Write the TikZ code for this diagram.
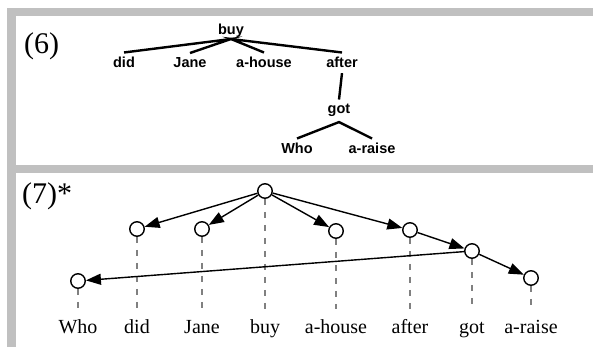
\documentclass[tikz,border=0pt]{standalone}
\usepackage{fontspec}
\setmainfont{Liberation Serif}
\setsansfont{Liberation Sans}
\usetikzlibrary{arrows.meta}
\definecolor{framegray}{RGB}{192,192,192}
\definecolor{projgray}{RGB}{128,128,128}
\tikzset{
  tword/.style={font=\sffamily\bfseries\fontsize{14.5}{16}\selectfont, inner sep=0pt, outer ysep=5pt, anchor=base},
  tedge/.style={line width=2.4pt},
  vert/.style={circle, draw, line width=1.4pt, fill=white, minimum size=14.5pt, inner sep=0pt},
  word/.style={font=\fontsize{20}{22}\selectfont, inner sep=0pt, anchor=base, text height=14pt, text depth=4pt, outer ysep=10pt},
  dep/.style={line width=1.4pt, -{Triangle[length=15pt,width=11pt]}},
  proj/.style={projgray, line width=1.4pt, dash pattern=on 6.5pt off 6.5pt},
  exnum/.style={font=\fontsize{30}{32}\selectfont, inner sep=0pt, anchor=base west}
}
\begin{document}
\begin{tikzpicture}[x=1pt,y=-1pt]
\useasboundingbox (0,0) rectangle (593,347);
% frame
\fill[framegray] (7,8) rectangle (593,16);
\fill[framegray] (7,8) rectangle (16,347);
\fill[framegray] (16,165) rectangle (593,173);

% (6) tree
\node[exnum] (ex6) at (24,54) {(6)};
\node[tword, outer ysep=1pt] (tbuy) at (231,35) {buy};
\node[tword] (tdid) at (124,68) {did};
\node[tword] (tjane) at (190,68) {Jane};
\node[tword] (thouse) at (264,68) {a-house};
\node[tword] (tafter) at (342,68) {after};
\node[tword] (tgot) at (339,114) {got};
\node[tword] (twho) at (297,154) {Who};
\node[tword] (traise) at (372,154) {a-raise};
\draw[tedge] (tdid.north) -- (tbuy.south) -- (tjane.north);
\draw[tedge] (thouse.north) -- (tbuy.south) -- (tafter.north);
\draw[tedge] (tafter.south) -- (tgot.north);
\draw[tedge] (twho.north) -- (tgot.south) -- (traise.north);

% (7) graph
\node[exnum] (ex7) at (22,204) {(7)*};
\node[vert] (buy) at (265,191) {};
\node[vert] (did) at (137,229) {};
\node[vert] (jane) at (202,229) {};
\node[vert] (house) at (336,231) {};
\node[vert] (after) at (410,230) {};
\node[vert] (got) at (472,251) {};
\node[vert] (raise) at (531,278) {};
\node[vert] (who) at (78,281) {};

\node[word] (wwho) at (78,333) {Who};
\node[word] (wdid) at (137,333) {did};
\node[word] (wjane) at (202,333) {Jane};
\node[word] (wbuy) at (265,333) {buy};
\node[word] (whouse) at (336,333) {a-house};
\node[word] (wafter) at (410,333) {after};
\node[word] (wgot) at (472,333) {got};
\node[word] (wraise) at (531,333) {a-raise};

\foreach \v/\w in {who/wwho,did/wdid,jane/wjane,buy/wbuy,house/whouse,after/wafter,got/wgot,raise/wraise}
  \draw[proj] (\v.south) -- (\w.north);

\draw[dep] (buy) -- (did);
\draw[dep] (buy) -- (jane);
\draw[dep] (buy) -- (house);
\draw[dep] (buy) -- (after);
\draw[dep] (after) -- (got);
\draw[dep] (got) -- (raise);
\draw[dep] (got) -- (who);
\end{tikzpicture}
\end{document}
